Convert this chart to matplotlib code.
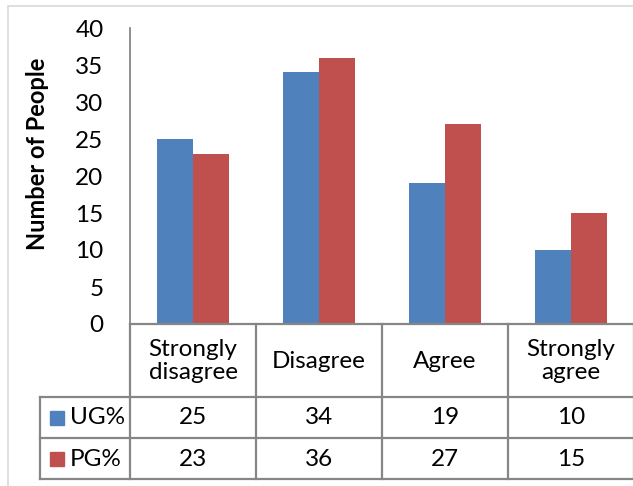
import matplotlib
matplotlib.use("Agg")
import matplotlib.pyplot as plt
from matplotlib.patches import Rectangle
from matplotlib.lines import Line2D

categories = ["Strongly\ndisagree", "Disagree", "Agree", "Strongly\nagree"]
series_names = ["UG%", "PG%"]
ug_values = [25, 34, 19, 10]
pg_values = [23, 36, 27, 15]
y_ticks = [0, 5, 10, 15, 20, 25, 30, 35, 40]

BLUE = "#4F81BD"
RED = "#C0504D"
GRID = "#868686"
FONT = "Lato"
FS = 17.5

W, H = 633, 486
fig = plt.figure(figsize=(W / 100, H / 100), dpi=100)

# plot area in pixel terms
left_px, right_px, top_px, base_px = 130, 634, 28, 324
ax = fig.add_axes([left_px / W, 1 - base_px / H,
                   (right_px - left_px) / W, (base_px - top_px) / H])

n = len(categories)
xs = list(range(n))
bw = 0.285
ax.bar([x - bw / 2 for x in xs], ug_values, width=bw, color=BLUE, zorder=2)
ax.bar([x + bw / 2 for x in xs], pg_values, width=bw, color=RED, zorder=2)

ax.set_xlim(-0.5, n - 0.5)
ax.set_ylim(0, 40)
ax.set_yticks(y_ticks)
ax.set_yticklabels([str(t) for t in y_ticks], fontsize=FS, family=FONT)
ax.tick_params(axis="y", length=0, pad=19)
ax.set_xticks([])
for s in ["top", "right", "bottom"]:
    ax.spines[s].set_visible(False)
ax.spines["left"].set_color(GRID)
ax.spines["left"].set_linewidth(1.3)

fig.text(38 / W, 1 - 154 / H, "Number of People", rotation=90,
         ha="center", va="center", fontsize=17, fontweight="bold", family=FONT)

# data table below the plot area
def yd(py):
    return (base_px - py) / (base_px - top_px) * 40

px_per_cat = (right_px - left_px) / n
legend_left = -0.5 - (left_px - 40) / px_per_cat
row_lines = [397, 438, 479]
bounds = [i - 0.5 for i in range(n + 1)]
lk = dict(color=GRID, lw=1.6, clip_on=False, zorder=3)

def line(x0, x1, y0, y1):
    ax.add_line(Line2D([x0, x1], [yd(y0), yd(y1)], **lk))

line(-0.5, n - 0.5, 324, 324)
for b in bounds:
    line(b, b, 324, 479)
line(legend_left, legend_left, 397, 479)
for r in row_lines:
    line(legend_left, n - 0.5, r, r)

for i, c in enumerate(categories):
    ax.text(i, yd(361), c, ha="center", va="center", fontsize=FS,
            family=FONT, linespacing=1.12, clip_on=False)

rows = [(series_names[0], ug_values, BLUE, 417.5),
        (series_names[1], pg_values, RED, 459)]
for name, vals, col, cy in rows:
    for i, v in enumerate(vals):
        ax.text(i, yd(cy), str(v), ha="center", va="center",
                fontsize=FS, family=FONT, clip_on=False)
    sq = 14
    fig.patches.append(Rectangle((50 / W, 1 - (cy + sq / 2) / H), sq / W, sq / H,
                                 color=col, transform=fig.transFigure))
    fig.text(70 / W, 1 - cy / H, name, ha="left", va="center",
             fontsize=FS, family=FONT)

# outer chart frame
fig.patches.append(Rectangle((8 / W, -10 / H), 640 / W, (496 - 6) / H,
                             fill=False, ec="#D9D9D9", lw=1.2,
                             transform=fig.transFigure))

fig.savefig("out.png", dpi=100)
